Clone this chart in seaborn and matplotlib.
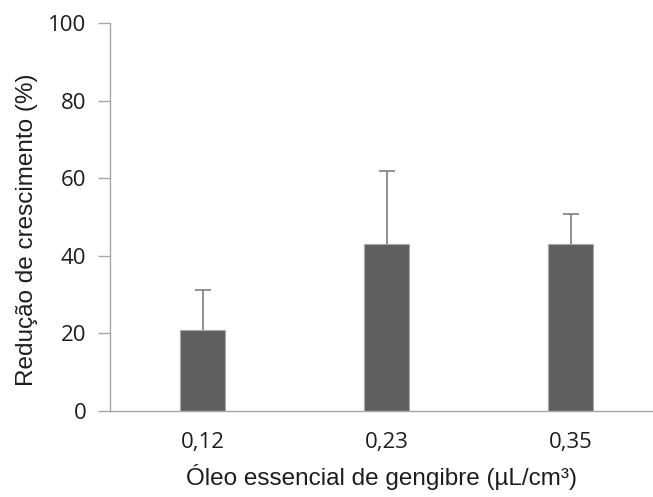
import matplotlib
matplotlib.use("Agg")
import matplotlib.pyplot as plt
import seaborn as sns
import pandas as pd

categories = ["0,12", "0,23", "0,35"]
values = [20.8, 43.0, 43.0]
errors = [10.4, 18.9, 7.8]
yticks = [0, 20, 40, 60, 80, 100]

sns.set_style("white")
plt.rcParams["font.family"] = ["Open Sans", "DejaVu Sans"]

fig = plt.figure(figsize=(6.53, 4.97), dpi=100)
ax = fig.add_axes([110/653, 1-411/497, 1-110/653, (411-23)/497])

df = pd.DataFrame({"cat": categories, "val": values})
ax.errorbar(range(len(categories)), values, yerr=errors, fmt="none",
            ecolor="#7f7f7f", elinewidth=1.2, capsize=6, capthick=1.2, zorder=1)
sns.barplot(data=df, x="cat", y="val", ax=ax, color="#5f5f5f", width=0.245,
            edgecolor="#a6a6a6", linewidth=0.8, saturation=1, zorder=2)

ax.set_ylim(0, 100)
ax.set_xlim(-0.505, 2.446)
ax.set_yticks(yticks)
ax.set_yticklabels([str(t) for t in yticks])
for s in ["top", "right"]:
    ax.spines[s].set_visible(False)
for s in ["left", "bottom"]:
    ax.spines[s].set_color("#a6a6a6")
    ax.spines[s].set_linewidth(1.0)
    ax.spines[s].set_zorder(3)
ax.tick_params(axis="y", length=9, width=1.0, color="#a6a6a6", labelsize=16,
               labelcolor="#1e1e1e", pad=8, left=True)
ax.tick_params(axis="x", length=0, labelsize=16, labelcolor="#1e1e1e", pad=15)
ax.set_xlabel("Óleo essencial de gengibre (µL/cm³)", fontsize=17.5, color="#1e1e1e",
              labelpad=8, family=["Liberation Sans", "DejaVu Sans"])
ax.set_ylabel("Redução de crescimento (%)", fontsize=17.5, color="#1e1e1e",
              family=["Liberation Sans", "DejaVu Sans"])
ax.yaxis.set_label_coords(-72/543, 0.467)

fig.savefig("out.png", dpi=100)
